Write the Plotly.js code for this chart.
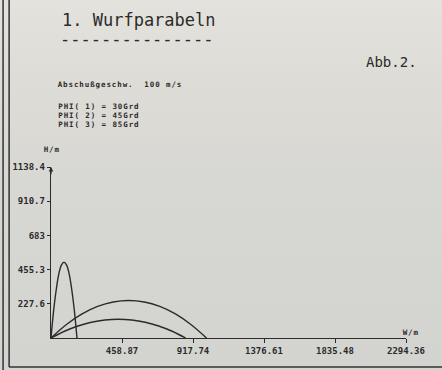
<!DOCTYPE html>
<html>
<head>
<meta charset="utf-8">
<script src="https://cdn.plot.ly/plotly-3.0.1.min.js"></script>
<style>
html,body{margin:0;padding:0;}
body{width:442px;height:370px;background:linear-gradient(180deg,#e4e2dc 0%,#dedcd6 22%,#d7d7d3 50%,#d3d3d0 100%);}
#chart{width:442px;height:370px;}
#chart .annotation-text[style*="font-size: 7.5px"]{letter-spacing:0.9px;}
</style>
</head>
<body>
<div id="chart"></div>
<script>
// ---- data ----
const phiLabels = ["PHI( 1) = 30Grd", "PHI( 2) = 45Grd", "PHI( 3) = 85Grd"];
const x30 = [0, 87, 174, 261, 348, 435, 522, 609, 696, 783, 870];
const y30 = [0, 45, 80, 105, 120, 125, 120, 105, 80, 45, 0];
const x45 = [0, 100, 201, 301, 402, 502, 603, 703, 804, 904, 1005];
const y45 = [0, 90, 160, 210, 240, 250, 240, 210, 160, 90, 0];
const x85 = [0, 17, 34, 50, 67, 84, 101, 118, 134, 151, 168];
const y85 = [0, 182, 323, 424, 485, 505, 485, 424, 323, 182, 0];
const xTickVals = [458.87, 917.74, 1376.61, 1835.48, 2294.36];
const xTickText = ["458.87", "917.74", "1376.61", "1835.48", "2294.36"];
const yTickVals = [227.68, 455.36, 683.04, 910.72, 1138.4];
const yTickText = ["227.6", "455.3", "683", "910.7", "1138.4"];
const titleText = "1. Wurfparabeln";
const figText = "Abb.2.";
const speedText = "Abschußgeschw.  100 m/s";
const yUnit = "H/m";
const xUnit = "W/m";

const ink = "#2b2b2b";
const mono = "DejaVu Sans Mono, monospace";
const nb = s => s.replace(/ /g, "\u00a0");

function curve(x, y) {
  return {x: x, y: y, type: "scatter", mode: "lines",
          line: {color: ink, width: 1.4, shape: "spline", smoothing: 1},
          hoverinfo: "skip", showlegend: false};
}

const data = [curve(x30, y30), curve(x45, y45), curve(x85, y85)];

const small = {family: mono, size: 7.5, color: ink, weight: "bold"};
const ann = [
  {text: nb(titleText), x: 0.025, y: 1.86, xanchor: "left", yanchor: "middle",
   font: {family: mono, size: 17, color: ink}},
  {text: "-".repeat(15), x: 0.019, y: 1.75, xanchor: "left", yanchor: "middle",
   font: {family: mono, size: 17, color: ink}},
  {text: figText, x: 1.037, y: 1.614, xanchor: "right", yanchor: "middle",
   font: {family: mono, size: 14, color: ink}},
  {text: nb(speedText), x: 0.017, xshift: 9, y: 1.48, xanchor: "left", yanchor: "middle", font: small},
  {text: yUnit, x: 0.0, xshift: 1, y: 1.10, xanchor: "center", yanchor: "middle", font: small},
  {text: xUnit, x: 1.014, y: 0.03, xanchor: "center", yanchor: "middle", font: small}
];
const phiShift = [18, 9, 0];
phiLabels.forEach((t, i) => ann.push({
  text: nb(t), x: 0.017, xshift: 6, y: 1.2485, yshift: phiShift[i], xanchor: "left", yanchor: "middle",
  font: small}));
ann.forEach(a => { a.xref = "paper"; a.yref = "paper"; a.showarrow = false; });
// small arrow tip on the y axis
ann.push({x: 0, y: 1138.4, xref: "x", yref: "y", ax: 0, ay: 1080, axref: "x", ayref: "y",
          showarrow: true, arrowhead: 2, arrowsize: 0.7, arrowwidth: 1.3, arrowcolor: ink, text: ""});

const layout = {
  width: 442, height: 370,
  margin: {l: 51, r: 36, t: 167, b: 32, pad: 0},
  paper_bgcolor: "rgba(0,0,0,0)", plot_bgcolor: "rgba(0,0,0,0)",
  showlegend: false,
  xaxis: {range: [0, 2294.36], showline: true, linecolor: ink, linewidth: 1.3,
          showgrid: false, zeroline: false, ticks: "outside", ticklen: 4, tickwidth: 1,
          tickcolor: ink, tickvals: xTickVals, ticktext: xTickText,
          tickfont: {family: mono, size: 9, color: ink, weight: "bold"}, fixedrange: true},
  yaxis: {range: [0, 1138.4], showline: true, linecolor: ink, linewidth: 1.3,
          showgrid: false, zeroline: false, ticks: "outside", ticklen: 3, tickwidth: 1,
          tickcolor: ink, tickvals: yTickVals, ticktext: yTickText,
          tickfont: {family: mono, size: 9, color: ink, weight: "bold"}, fixedrange: true},
  annotations: ann,
  shapes: [
    {type: "line", xref: "paper", yref: "paper", x0: -0.135, x1: -0.135, y0: -0.19, y1: 1.98,
     line: {color: "#333", width: 1.5}},
    {type: "line", xref: "paper", yref: "paper", x0: -0.118, x1: -0.118, y0: -0.17, y1: 1.98,
     line: {color: "#333", width: 1.5}},
    {type: "line", xref: "paper", yref: "paper", x0: -0.118, x1: 1.11, y0: -0.17, y1: -0.17,
     line: {color: "#333", width: 1.5}}
  ]
};

Plotly.newPlot("chart", data, layout, {displayModeBar: false, staticPlot: true});
</script>
</body>
</html>
